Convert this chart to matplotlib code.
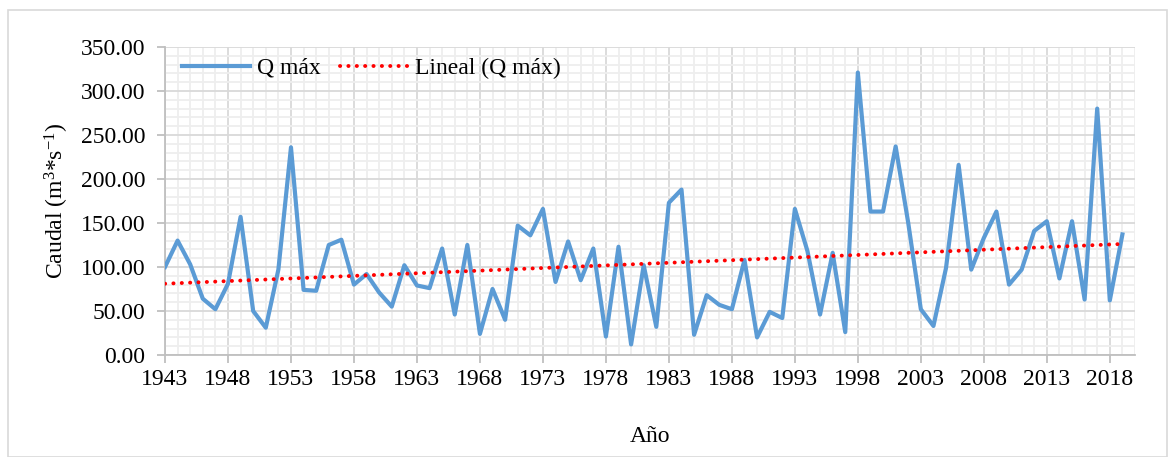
import numpy as np
import matplotlib
matplotlib.use('Agg')
from matplotlib import pyplot as plt
from matplotlib.patches import Rectangle
from matplotlib.ticker import MultipleLocator, FixedLocator

plt.rcParams['font.family'] = ['Liberation Serif', 'DejaVu Serif']
plt.rcParams['mathtext.fontset'] = 'custom'
plt.rcParams['mathtext.rm'] = 'Liberation Serif'
plt.rcParams['mathtext.it'] = 'Liberation Serif:italic'
plt.rcParams['axes.unicode_minus'] = False

years = np.arange(1943, 2020)
q_max = [100, 130, 103, 64, 52, 81, 157, 50, 31, 97,
         236, 74, 73, 125, 131, 80, 92, 71, 55, 102,
         79, 76, 121, 46, 125, 24, 75, 40, 147, 136,
         166, 83, 129, 85, 121, 21, 123, 12, 102, 32,
         173, 188, 23, 68, 57, 52, 108, 20, 49, 42,
         166, 118, 46, 116, 26, 321, 163, 163, 237, 150,
         52, 33, 99, 216, 97, 133, 163, 80, 97, 141,
         152, 87, 152, 63, 280, 62, 137]
x_ticks = np.arange(1943, 2019, 5)

# linear trend, same as Excel's "Lineal" trendline
coef = np.polyfit(years, q_max, 1)
trend = np.polyval(coef, years)

fig = plt.figure(figsize=(11.75, 4.57), dpi=100)
fig.patches.append(Rectangle((8/1175, 0.0), 1159/1175, 1 - 10/457,
                             transform=fig.transFigure, fill=False,
                             edgecolor='#d9d9d9', linewidth=1.2))
ax = fig.add_axes([165/1175, 1 - 355/457, 970/1175, 308/457])

ax.plot(years, q_max, color='#5b9bd5', linewidth=3, label='Q máx', zorder=3)
ax.plot(years, trend, color='#ff0000', linewidth=2.8,
        linestyle=(0, (0.05, 2.1)), dash_capstyle='round',
        label='Lineal (Q máx)', zorder=4)

ax.set_xlim(1943, 2020)
ax.set_ylim(0, 350)
ax.xaxis.set_major_locator(FixedLocator(x_ticks))
ax.xaxis.set_minor_locator(MultipleLocator(1))
ax.yaxis.set_major_locator(MultipleLocator(50))
ax.yaxis.set_minor_locator(MultipleLocator(10))
ax.yaxis.set_major_formatter(lambda v, p: '%.2f' % v)

ax.grid(which='major', color='#d9d9d9', linewidth=1.3)
ax.grid(which='minor', color='#eeeeee', linewidth=1.3)
ax.set_axisbelow(True)

for s in ['top', 'right']:
    ax.spines[s].set_visible(False)
for s in ['left', 'bottom']:
    ax.spines[s].set_color('#bfbfbf')
    ax.spines[s].set_linewidth(1.3)

ax.tick_params(which='major', length=6, width=1.3, color='#bfbfbf',
               labelsize=17, pad=4)
ax.tick_params(axis='y', which='major', pad=8)
ax.tick_params(which='minor', length=0)

ax.set_xlabel('Año', fontsize=17, labelpad=26)
ax.set_ylabel('Caudal (m$^{3}$*s$^{-1}$)', fontsize=17, labelpad=7)

ax.legend(loc='upper left', ncol=2, frameon=False, fontsize=17,
          handlelength=2.9, handletextpad=0.3, columnspacing=0.8,
          bbox_to_anchor=(0.0, 1.02), borderaxespad=0.3)

plt.savefig('out.png', dpi=100)
